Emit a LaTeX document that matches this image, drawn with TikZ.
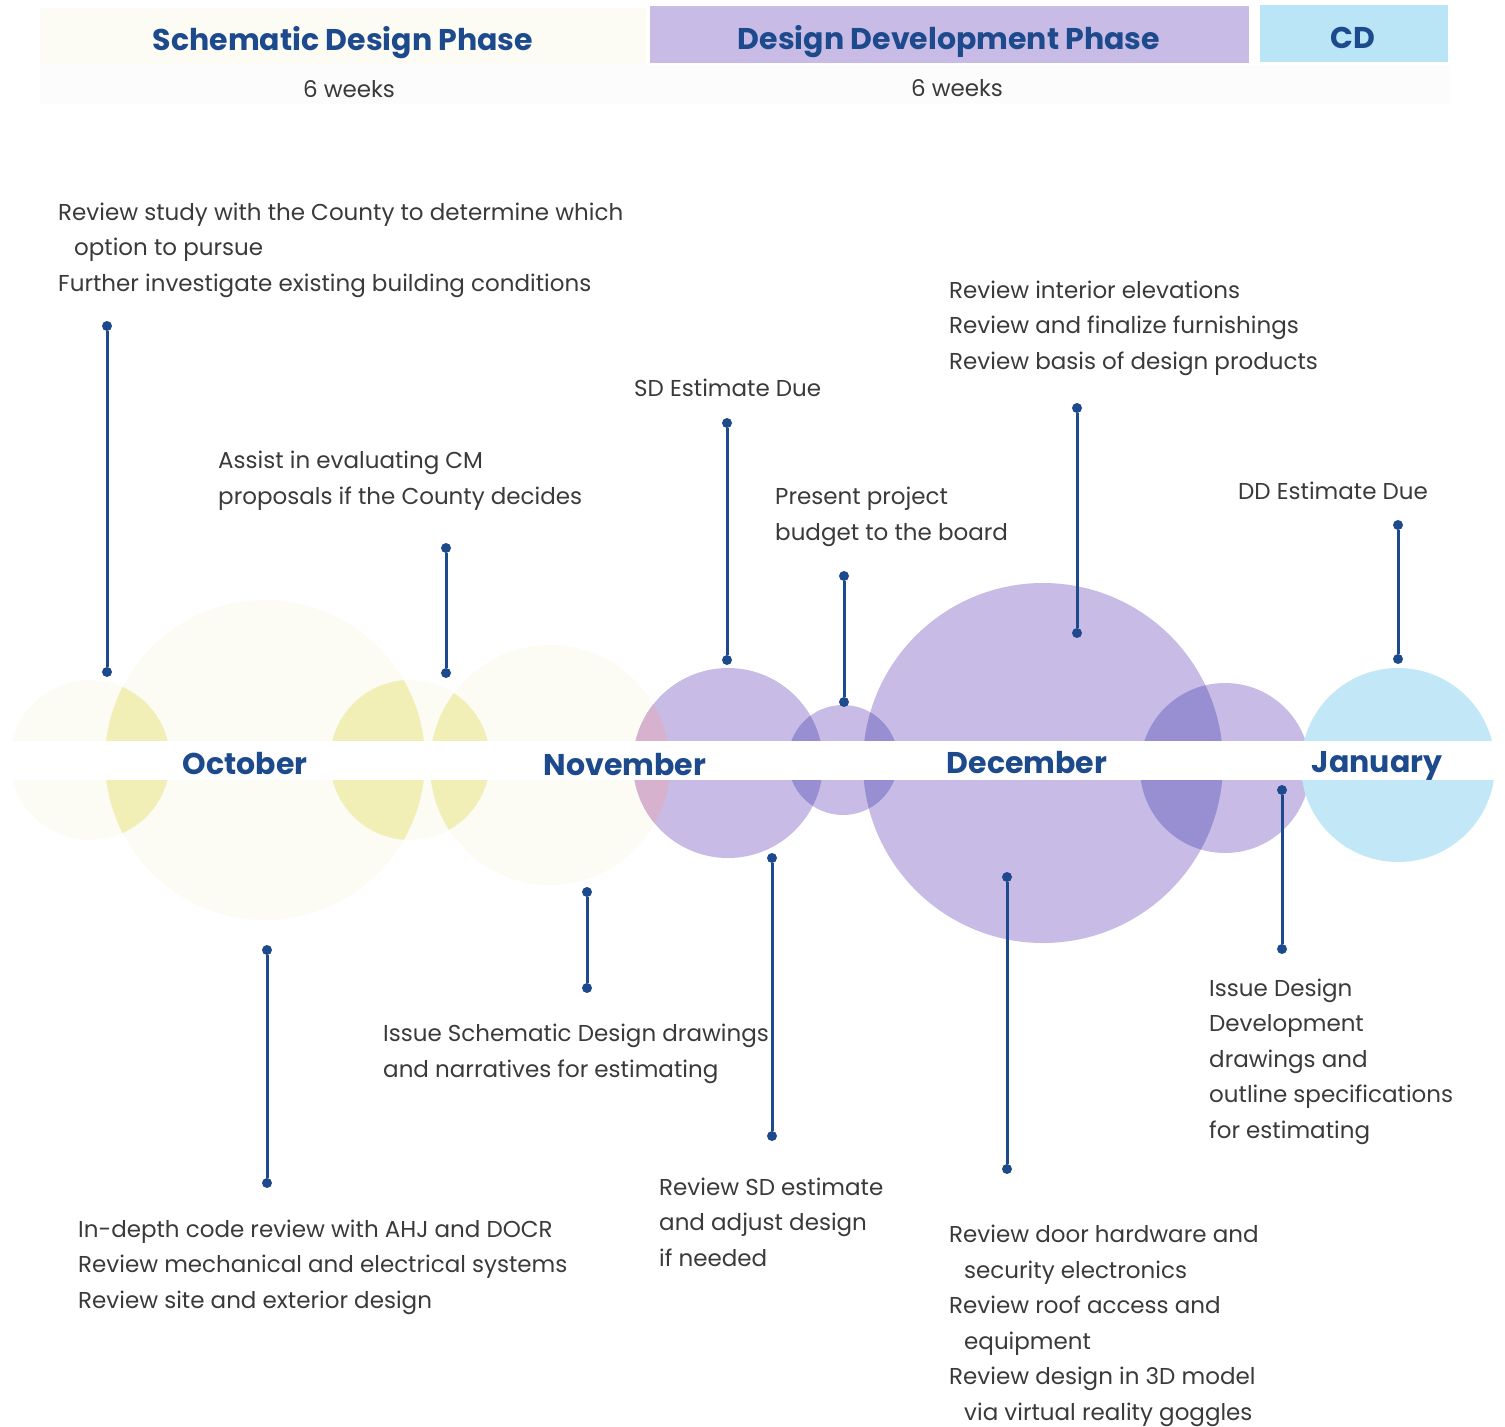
\documentclass[tikz,border=0pt]{standalone}
\usepackage{fontspec}
\setmainfont{Poppins}
\usepackage{tikz}
\usepackage{xcolor}
\usetikzlibrary{positioning}

\definecolor{navy}{HTML}{1D4A8C}
\definecolor{ink}{HTML}{3A3A3A}
\definecolor{sdfaint}{HTML}{FCFCF4}
\definecolor{sdlens}{HTML}{F2EFB6}
\definecolor{ddfill}{HTML}{C8BCE6}
\definecolor{ddlens}{HTML}{978FD2}
\definecolor{pinklens}{HTML}{D6B2CF}
\definecolor{cdfill}{HTML}{C2E8F8}
\definecolor{cdbar}{HTML}{B9E5F7}

\begin{document}
\begin{tikzpicture}[x=1pt, y=-1pt,
    dot/.style = {circle, fill=navy, inner sep=0pt, minimum size=10pt},
    stem/.style = {navy, line width=3pt},
    note/.style = {anchor=base west, align=left, inner sep=0pt, text=ink, font=\fontsize{23}{35.5}\selectfont},
    month/.style = {anchor=base, text=navy, inner sep=0pt, font=\fontsize{30}{36}\selectfont\bfseries},
    phase/.style = {anchor=base, text=navy, inner sep=0pt, font=\fontsize{30}{34}\selectfont\bfseries},
    weeks/.style = {text=ink, inner sep=0pt, font=\fontsize{23}{25}\selectfont}]
                \useasboundingbox (0,0) rectangle (1505,1427);

                % Header bars
                \fill[sdfaint] (40,8) rectangle (646,65);
                \fill[black!1] (40,65) rectangle (1450,104);
                \fill[ddfill] (650,6) rectangle (1249,63);
                \fill[cdbar] (1260,5) rectangle (1448,62);
                \node[phase] (sd) at (343,50) {Schematic Design Phase};
                \node[phase] (dd) at (949,49) {Design Development Phase};
                \node[phase] (cd) at (1353,48) {CD};
                \node[weeks] (sdw) at (349,89) {6 weeks};
                \node[weeks] (ddw) at (957,88) {6 weeks};

                % Circles
                \coordinate (A1) at (90,760);
                \coordinate (A2) at (265,760);
                \coordinate (A3) at (410,760);
                \coordinate (A4) at (550,765);
                \coordinate (B1) at (728,763);
                \coordinate (B2) at (843,760);
                \coordinate (B3) at (1043,763);
                \coordinate (B4) at (1225,768);
                \coordinate (C1) at (1398,765);

                \fill[sdfaint] (A1) circle (80pt);
                \fill[sdfaint] (A2) circle (160pt);
                \fill[sdfaint] (A3) circle (80pt);
                \fill[sdfaint] (A4) circle (120pt);
                \fill[ddfill] (B1) circle (95pt);
                \fill[ddfill] (B2) circle (55pt);
                \fill[ddfill] (B3) circle (180pt);
                \fill[ddfill] (B4) circle (85pt);
                \fill[cdfill] (C1) circle (97pt);

                % Overlaps
                \begin{scope}
                    \clip (A1) circle (80pt);
                    \fill[sdlens] (A2) circle (160pt);
                \end{scope}
                \begin{scope}
                    \clip (A2) circle (160pt);
                    \fill[sdlens] (A3) circle (80pt);
                \end{scope}
                \begin{scope}
                    \clip (A3) circle (80pt);
                    \fill[sdlens] (A4) circle (120pt);
                \end{scope}
                \begin{scope}
                    \clip (A4) circle (120pt);
                    \fill[pinklens] (B1) circle (95pt);
                \end{scope}
                \begin{scope}
                    \clip (B1) circle (95pt);
                    \fill[ddlens] (B2) circle (55pt);
                \end{scope}
                \begin{scope}
                    \clip (B2) circle (55pt);
                    \fill[ddlens] (B3) circle (180pt);
                \end{scope}
                \begin{scope}
                    \clip (B3) circle (180pt);
                    \fill[ddlens] (B4) circle (85pt);
                \end{scope}

                % Month band
                \fill[white] (0,741) rectangle (1505,780);
                \node[month] (oct) at (245,774) {October};
                \node[month] (nov) at (625,775) {November};
                \node[month] (dec) at (1027,773) {December};
                \node[month] (jan) at (1377,772) {January};

                % Dots
                \node[dot] (t1) at (107,326) {};
                \node[dot] (b1) at (107,672) {};
                \node[dot] (t2) at (446,548) {};
                \node[dot] (b2) at (446,673) {};
                \node[dot] (t3) at (727,423) {};
                \node[dot] (b3) at (727,660) {};
                \node[dot] (t4) at (844,576) {};
                \node[dot] (b4) at (844,702) {};
                \node[dot] (t5) at (1077,408) {};
                \node[dot] (b5) at (1077,633) {};
                \node[dot] (t6) at (1398,525) {};
                \node[dot] (b6) at (1398,659) {};
                \node[dot] (t7) at (267,950) {};
                \node[dot] (b7) at (267,1183) {};
                \node[dot] (t8) at (587,892) {};
                \node[dot] (b8) at (587,988) {};
                \node[dot] (t9) at (772,858) {};
                \node[dot] (b9) at (772,1136) {};
                \node[dot] (t10) at (1007,877) {};
                \node[dot] (b10) at (1007,1169) {};
                \node[dot] (t11) at (1282,790) {};
                \node[dot] (b11) at (1282,949) {};

                % Lines
                \draw[stem] (t1) -- (b1);
                \draw[stem] (t2) -- (b2);
                \draw[stem] (t3) -- (b3);
                \draw[stem] (t4) -- (b4);
                \draw[stem] (t5) -- (b5);
                \draw[stem] (t6) -- (b6);
                \draw[stem] (t7) -- (b7);
                \draw[stem] (t8) -- (b8);
                \draw[stem] (t9) -- (b9);
                \draw[stem] (t10) -- (b10);
                \draw[stem] (t11) -- (b11);

                % Notes (placed at the baseline of their last line)
                \node[note] (n1) at (58,291) {Review study with the County to determine which\\\hspace*{16pt}option to pursue\\Further investigate existing building conditions};
                \node[note] (n2) at (218,504) {Assist in evaluating CM\\proposals if the County decides};
                \node[note] (n3) at (634,396) {SD Estimate Due};
                \node[note] (n4) at (775,540) {Present project\\budget to the board};
                \node[note] (n5) at (949,369) {Review interior elevations\\Review and finalize furnishings\\Review basis of design products};
                \node[note] (n6) at (1238,499) {DD Estimate Due};
                \node[note] (n7) at (78,1308) {In-depth code review with AHJ and DOCR\\Review mechanical and electrical systems\\Review site and exterior design};
                \node[note] (n8) at (383,1077) {Issue Schematic Design drawings\\and narratives for estimating};
                \node[note] (n9) at (659,1266) {Review SD estimate\\and adjust design\\if needed};
                \node[note] (n10) at (949,1420) {Review door hardware and\\\hspace*{15pt}security electronics\\Review roof access and\\\hspace*{15pt}equipment\\Review design in 3D model\\\hspace*{15pt}via virtual reality goggles};
                \node[note] (n11) at (1209,1138) {Issue Design\\Development\\drawings and\\outline specifications\\for estimating};
            \end{tikzpicture}
\end{document}
